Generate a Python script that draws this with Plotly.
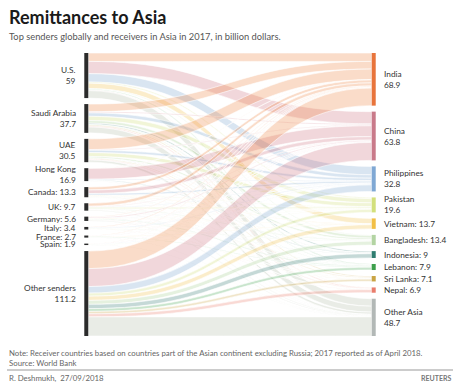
import plotly.graph_objects as go

# ---------------- data ----------------
senders = ["U.S.", "Saudi Arabia", "UAE", "Hong Kong", "Canada", "UK",
           "Germany", "Italy", "France", "Spain", "Other senders"]
sender_totals = [59, 37.7, 30.5, 16.9, 13.3, 9.7, 5.6, 3.4, 2.7, 1.9, 111.2]

receivers = ["India", "China", "Philippines", "Pakistan", "Vietnam", "Bangladesh",
             "Indonesia", "Lebanon", "Sri Lanka", "Nepal", "Other Asia"]
receiver_totals = [68.9, 63.8, 32.8, 19.6, 13.7, 13.4, 9, 7.9, 7.1, 6.9, 48.7]

# estimated flows (rows: senders, columns: receivers), billion dollars
flow_us = [11.0, 16.0, 11.0, 1.5, 7.0, 0.8, 0.3, 1.0, 0.2, 0.4, 9.8]
flow_saudi = [10.0, 1.5, 4.5, 5.5, 0, 3.5, 1.8, 0.5, 1.5, 1.2, 7.7]
flow_uae = [14.0, 1.0, 3.0, 5.0, 0, 2.0, 0.3, 0.3, 1.2, 0.8, 2.9]
flow_hk = [0.3, 14.2, 1.0, 0, 0, 0, 0.8, 0, 0, 0.2, 0.4]
flow_canada = [3.8, 4.6, 2.2, 0.8, 0.5, 0.3, 0, 0.6, 0.3, 0, 0.2]
flow_uk = [4.0, 0.8, 0.6, 1.8, 0, 1.0, 0, 0.2, 0.3, 0.1, 0.9]
flow_germany = [0.9, 1.3, 0.4, 0.3, 0.3, 0, 0.2, 0.9, 0.2, 0.1, 1.0]
flow_italy = [0.9, 0.3, 0.9, 0.3, 0, 0.6, 0, 0, 0.3, 0, 0.1]
flow_france = [0.5, 0.4, 0.2, 0, 0.4, 0, 0, 0.8, 0, 0, 0.4]
flow_spain = [0.5, 0.2, 0.4, 0.4, 0, 0, 0, 0, 0, 0, 0.4]
flow_other = [23.0, 23.5, 8.6, 4.0, 5.5, 5.2, 5.6, 3.6, 3.1, 4.1, 25.0]

flows = [flow_us, flow_saudi, flow_uae, flow_hk, flow_canada, flow_uk,
         flow_germany, flow_italy, flow_france, flow_spain, flow_other]

# ---------------- style ----------------
W, H = 460, 384
FONT = "Lato"
sender_color = "#2b2b2b"
receiver_colors = ["#e8743b", "#c97a8a", "#7fa8d4", "#d3e07c", "#f2bf45", "#b3d4a3",
                   "#2f7d70", "#3d9f4c", "#c9a444", "#e97d6c", "#b2b8b6"]
link_bases = [(238, 130, 60), (204, 110, 125), (120, 160, 205), (205, 220, 110),
              (240, 190, 70), (160, 205, 140), (45, 120, 110), (60, 160, 75),
              (200, 160, 60), (235, 120, 100), (175, 185, 165)]
ALPHA = 0.28

top_px, bot_px = 53, 336
left_px, right_px = 86, 374
pad = 6

n_s, n_r = len(senders), len(receivers)

src, tgt, val, lcol = [], [], [], []
for i, row in enumerate(flows):
    for j, v in enumerate(row):
        if v > 0:
            src.append(i)
            tgt.append(n_s + j)
            val.append(v)
            r, g, b = link_bases[j]
            lcol.append(f"rgba({r},{g},{b},{ALPHA})")

left_vals = [sum(r) for r in flows]
right_vals = [sum(r[j] for r in flows) for j in range(n_r)]

Hd = bot_px - top_px
ky = min((Hd - (n_s - 1) * pad) / sum(left_vals), (Hd - (n_r - 1) * pad) / sum(right_vals))


def centers(vals):
    out, acc = [], 0.0
    for v in vals:
        out.append(acc + v * ky / 2)
        acc += v * ky + pad
    return out


lc = centers(left_vals)
rc = centers(right_vals)

node_x = [0.001] * n_s + [0.999] * n_r
node_y = [max(c / Hd, 0.001) for c in lc] + [max(c / Hd, 0.001) for c in rc]

fig = go.Figure(go.Sankey(
    arrangement="fixed",
    domain=dict(x=[left_px / W, right_px / W], y=[1 - bot_px / H, 1 - top_px / H]),
    node=dict(
        label=[""] * (n_s + n_r),
        customdata=senders + receivers,
        hovertemplate="%{customdata}: %{value}<extra></extra>",
        color=[sender_color] * n_s + receiver_colors,
        thickness=4,
        pad=pad,
        line=dict(width=0),
        x=node_x,
        y=node_y,
    ),
    link=dict(source=src, target=tgt, value=val, color=lcol,
              line=dict(color="white", width=0.6)),
))


def fmt(name, v):
    return f"{name}<br>{v:g}" if v > 15 else f"{name}: {v:g}"


LBL = 8.3
ann = []
for k, name in enumerate(senders):
    y_px = top_px + lc[k]
    ann.append(dict(x=78 / W, y=1 - y_px / H, xref="paper", yref="paper",
                    xanchor="right", yanchor="middle", align="right",
                    text=fmt(name, sender_totals[k]), showarrow=False,
                    font=dict(family=FONT, size=LBL, color="#333")))
for k, name in enumerate(receivers):
    y_px = top_px + rc[k]
    ann.append(dict(x=382 / W, y=1 - y_px / H, xref="paper", yref="paper",
                    xanchor="left", yanchor="middle", align="left",
                    text=fmt(name, receiver_totals[k]), showarrow=False,
                    font=dict(family=FONT, size=LBL, color="#333")))

# titles and notes
ann.append(dict(x=7 / W, y=1 - 17 / H, xref="paper", yref="paper", xanchor="left", yanchor="middle",
                text="<b>Remittances to Asia</b>", showarrow=False,
                font=dict(family=FONT, size=18, color="#1a1a1a")))
ann.append(dict(x=7 / W, y=1 - 37 / H, xref="paper", yref="paper", xanchor="left", yanchor="middle",
                text="Top senders globally and receivers in Asia in 2017, in billion dollars.",
                showarrow=False, font=dict(family=FONT, size=9.3, color="#555")))
ann.append(dict(x=7 / W, y=1 - 353 / H, xref="paper", yref="paper", xanchor="left", yanchor="middle",
                text="Note: Receiver countries based on countries part of the Asian continent excluding Russia; 2017 reported as of April 2018.",
                showarrow=False, font=dict(family=FONT, size=7.8, color="#666")))
ann.append(dict(x=7 / W, y=1 - 363 / H, xref="paper", yref="paper", xanchor="left", yanchor="middle",
                text="Source: World Bank", showarrow=False,
                font=dict(family=FONT, size=7.8, color="#666")))
ann.append(dict(x=7 / W, y=1 - 378 / H, xref="paper", yref="paper", xanchor="left", yanchor="middle",
                text="R. Deshmukh,  27/09/2018", showarrow=False,
                font=dict(family=FONT, size=7.8, color="#666")))
ann.append(dict(x=453 / W, y=1 - 378 / H, xref="paper", yref="paper", xanchor="right", yanchor="middle",
                text="<b>REUTERS</b>", showarrow=False,
                font=dict(family=FONT, size=7, color="#777")))

fig.update_layout(
    width=W, height=H,
    margin=dict(l=0, r=0, t=0, b=0),
    paper_bgcolor="white",
    font=dict(family=FONT),
    annotations=ann,
    shapes=[dict(type="line", xref="paper", yref="paper",
                 x0=7 / W, x1=453 / W, y0=1 - 370 / H, y1=1 - 370 / H,
                 line=dict(color="#999", width=1.2))],
)

fig.write_html("out.html", config={"displayModeBar": False},
               post_script="document.body.style.margin='0';document.body.style.overflow='hidden';")
